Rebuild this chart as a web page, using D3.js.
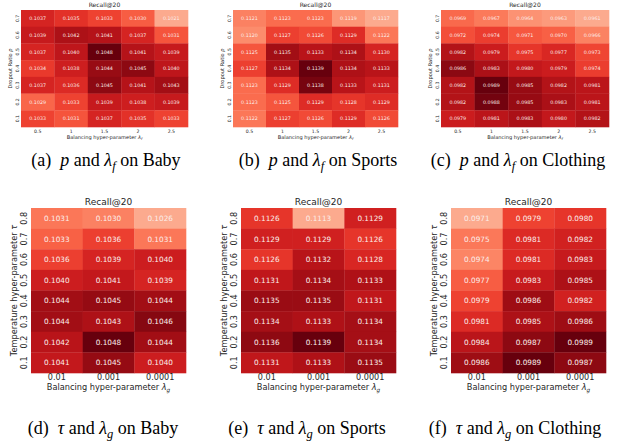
<!DOCTYPE html>
<html>
<head>
<meta charset="utf-8">
<script src="https://cdn.jsdelivr.net/npm/d3@7"></script>
<style>
  body { margin: 0; background: #fff; }
  svg { display: block; }
</style>
</head>
<body>
<svg id="chart" width="619" height="442"></svg>
<script>
// ---- data ----
// top row: rows are dropout ratio p (top to bottom), columns lambda_f
const pRows = ["0.7", "0.6", "0.5", "0.4", "0.3", "0.2", "0.1"];
const lambdaFCols = ["0.5", "1", "1.5", "2", "2.5"];

const babyPF = [
  [0.1037, 0.1035, 0.1033, 0.1030, 0.1021],
  [0.1039, 0.1042, 0.1041, 0.1037, 0.1031],
  [0.1037, 0.1040, 0.1048, 0.1041, 0.1039],
  [0.1034, 0.1038, 0.1044, 0.1045, 0.1040],
  [0.1037, 0.1036, 0.1045, 0.1041, 0.1043],
  [0.1029, 0.1033, 0.1039, 0.1038, 0.1039],
  [0.1033, 0.1031, 0.1037, 0.1035, 0.1033]
];
const sportsPF = [
  [0.1121, 0.1123, 0.1123, 0.1119, 0.1117],
  [0.1120, 0.1127, 0.1126, 0.1129, 0.1122],
  [0.1125, 0.1135, 0.1133, 0.1134, 0.1130],
  [0.1127, 0.1134, 0.1139, 0.1134, 0.1133],
  [0.1123, 0.1129, 0.1138, 0.1133, 0.1131],
  [0.1123, 0.1125, 0.1129, 0.1128, 0.1129],
  [0.1122, 0.1127, 0.1126, 0.1129, 0.1126]
];
const clothingPF = [
  [0.0969, 0.0967, 0.0964, 0.0963, 0.0961],
  [0.0972, 0.0974, 0.0971, 0.0970, 0.0966],
  [0.0982, 0.0979, 0.0975, 0.0977, 0.0973],
  [0.0986, 0.0983, 0.0980, 0.0979, 0.0974],
  [0.0982, 0.0989, 0.0985, 0.0982, 0.0981],
  [0.0982, 0.0988, 0.0985, 0.0983, 0.0981],
  [0.0979, 0.0981, 0.0983, 0.0980, 0.0982]
];

// bottom row: rows are temperature tau, columns lambda_g
const tauRows = ["0.8", "0.7", "0.6", "0.5", "0.4", "0.3", "0.2", "0.1"];
const lambdaGCols = ["0.01", "0.001", "0.0001"];

const babyTG = [
  [0.1031, 0.1030, 0.1026],
  [0.1033, 0.1036, 0.1031],
  [0.1036, 0.1039, 0.1040],
  [0.1040, 0.1041, 0.1039],
  [0.1044, 0.1045, 0.1044],
  [0.1044, 0.1043, 0.1046],
  [0.1042, 0.1048, 0.1044],
  [0.1041, 0.1045, 0.1040]
];
const sportsTG = [
  [0.1126, 0.1113, 0.1129],
  [0.1129, 0.1129, 0.1126],
  [0.1126, 0.1132, 0.1128],
  [0.1131, 0.1134, 0.1133],
  [0.1135, 0.1135, 0.1131],
  [0.1134, 0.1133, 0.1134],
  [0.1136, 0.1139, 0.1134],
  [0.1131, 0.1133, 0.1135]
];
const clothingTG = [
  [0.0971, 0.0979, 0.0980],
  [0.0975, 0.0981, 0.0982],
  [0.0974, 0.0981, 0.0983],
  [0.0977, 0.0983, 0.0985],
  [0.0979, 0.0986, 0.0982],
  [0.0981, 0.0985, 0.0986],
  [0.0984, 0.0987, 0.0989],
  [0.0986, 0.0989, 0.0987]
];

const captionLetters = ["(a)", "(b)", "(c)", "(d)", "(e)", "(f)"];
const datasets = ["Baby", "Sports", "Clothing"];

// ---- layout ----
const svg = d3.select("#chart");
const sans = "DejaVu Sans, sans-serif";

const topRow = { y0: 10, y1: 127, title: 6, tick: 4.6, label: 5.1, annot: 4.8,
                 tickGap: 2, labelGap: 9.5, xTickY: 6.2, xLabelY: 12, capY: 166 };
const botRow = { y0: 208, y1: 373, title: 9, tick: 8.1, label: 8.2, annot: 7.3,
                 tickGap: 3.7, labelGap: 14.5, xTickY: 7.3, xLabelY: 17, capY: 434 };

const panels = [
  { values: babyPF, rows: pRows, cols: lambdaFCols, x0: 21, x1: 188, s: topRow, sym: "p", sub: "f", capX: 106 },
  { values: sportsPF, rows: pRows, cols: lambdaFCols, x0: 233, x1: 398, s: topRow, sym: "p", sub: "f", capX: 318 },
  { values: clothingPF, rows: pRows, cols: lambdaFCols, x0: 441, x1: 609, s: topRow, sym: "p", sub: "f", capX: 518 },
  { values: babyTG, rows: tauRows, cols: lambdaGCols, x0: 31, x1: 186, s: botRow, sym: "τ", sub: "g", capX: 103 },
  { values: sportsTG, rows: tauRows, cols: lambdaGCols, x0: 241, x1: 396, s: botRow, sym: "τ", sub: "g", capX: 307 },
  { values: clothingTG, rows: tauRows, cols: lambdaGCols, x0: 451, x1: 606, s: botRow, sym: "τ", sub: "g", capX: 515 }
];

panels.forEach((p, i) => {
  const s = p.s;
  const w = p.x1 - p.x0, h = s.y1 - s.y0;
  const g = svg.append("g").attr("transform", `translate(${p.x0},${s.y0})`);

  const x = d3.scaleBand().domain(p.cols).range([0, w]);
  const y = d3.scaleBand().domain(p.rows).range([0, h]);

  const flat = p.values.flat();
  const color = d3.scaleSequential(t => d3.interpolateReds(0.3 + 0.7 * t))
    .domain(d3.extent(flat));

  const cells = [];
  p.values.forEach((row, r) => row.forEach((v, c) => cells.push({ r: p.rows[r], c: p.cols[c], v })));

  g.selectAll("rect.cell")
    .data(cells)
    .enter()
    .append("rect")
    .attr("class", "cell")
    .attr("x", d => x(d.c))
    .attr("y", d => y(d.r))
    .attr("width", x.bandwidth() + 0.3)
    .attr("height", y.bandwidth() + 0.3)
    .attr("fill", d => color(d.v));

  g.selectAll("text.annot")
    .data(cells)
    .enter()
    .append("text")
    .attr("class", "annot")
    .attr("x", d => x(d.c) + x.bandwidth() / 2)
    .attr("y", d => y(d.r) + y.bandwidth() / 2)
    .attr("dy", "0.36em")
    .attr("text-anchor", "middle")
    .style("font-family", sans)
    .style("font-size", s.annot + "px")
    .style("fill", "#fbeeea")
    .text(d => d.v.toFixed(4));

  // x axis
  const xa = g.append("g")
    .attr("transform", `translate(0,${h})`)
    .call(d3.axisBottom(x).tickSize(0).tickPadding(0));
  xa.select(".domain").remove();
  xa.selectAll("text")
    .attr("y", s.xTickY)
    .attr("dy", "0")
    .style("font-family", sans)
    .style("font-size", s.tick + "px")
    .style("fill", "#262626");

  // y axis, labels rotated
  const ya = g.append("g").call(d3.axisLeft(y).tickSize(0));
  ya.select(".domain").remove();
  ya.selectAll("text")
    .attr("transform", "rotate(-90)")
    .attr("x", 0)
    .attr("y", -s.tickGap)
    .attr("dy", "0")
    .style("text-anchor", "middle")
    .style("font-family", sans)
    .style("font-size", s.tick + "px")
    .style("fill", "#262626");

  // title
  g.append("text")
    .attr("x", w / 2)
    .attr("y", -3)
    .attr("text-anchor", "middle")
    .style("font-family", sans)
    .style("font-size", s.title + "px")
    .style("fill", "#262626")
    .text("Recall@20");

  // x label
  const xl = g.append("text")
    .attr("x", w / 2)
    .attr("y", h + s.xLabelY)
    .attr("text-anchor", "middle")
    .style("font-family", sans)
    .style("font-size", s.label + "px")
    .style("fill", "#262626");
  xl.append("tspan").text("Balancing hyper-parameter ");
  xl.append("tspan").style("font-style", "italic").text("λ");
  xl.append("tspan").style("font-style", "italic").style("font-size", (s.label * 0.7) + "px")
    .attr("dy", s.label * 0.25).text(p.sub);

  // y label
  const yl = g.append("text")
    .attr("transform", `translate(${-s.labelGap},${h / 2}) rotate(-90)`)
    .attr("text-anchor", "middle")
    .style("font-family", sans)
    .style("font-size", s.label + "px")
    .style("fill", "#262626");
  yl.append("tspan").text(p.sym === "p" ? "Dropout Ratio " : "Temperature hyper-parameter ");
  yl.append("tspan").style("font-style", "italic").text(p.sym);

  // caption below
  const cap = svg.append("text")
    .attr("x", p.capX)
    .attr("y", s.capY)
    .attr("text-anchor", "middle")
    .style("font-family", "Liberation Serif, serif")
    .style("font-size", "18px")
    .style("fill", "#000");
  cap.append("tspan").text(captionLetters[i] + "\u2002");
  cap.append("tspan").style("font-style", "italic").text(p.sym);
  cap.append("tspan").text(" and ");
  cap.append("tspan").style("font-style", "italic").text("λ");
  cap.append("tspan").style("font-style", "italic").style("font-size", "12.5px").attr("dy", 3.5).text(p.sub);
  cap.append("tspan").attr("dy", -3.5).text(" on " + datasets[i % 3]);
});
</script>
</body>
</html>
